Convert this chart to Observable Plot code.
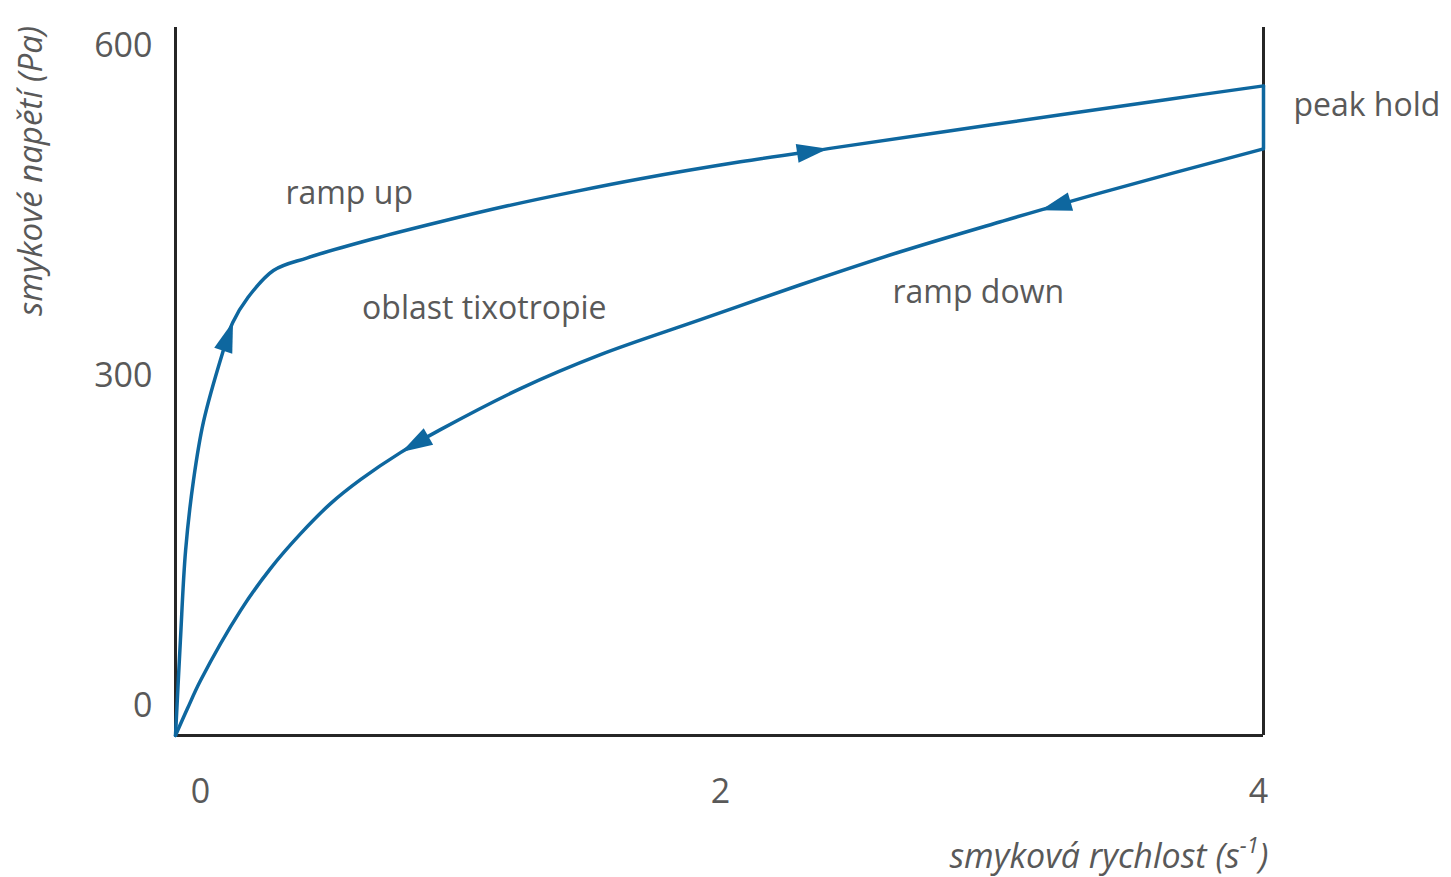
<!DOCTYPE html>
<html>
<head>
<meta charset="utf-8">
<script src="https://cdn.jsdelivr.net/npm/d3@7"></script>
<script src="https://cdn.jsdelivr.net/npm/@observablehq/plot@0.6"></script>
<style>
  html, body { margin: 0; padding: 0; background: #fff; }
</style>
</head>
<body>
<div id="chart"></div>
<script>
// Axis ticks
const xTicks = [0, 2, 4];
const yTicks = [0, 300, 600];

// Ramp up: shear rate (1/s) and shear stress (Pa), increasing rate
const rampUpRate   = [0, 0.018, 0.037, 0.066, 0.103, 0.173, 0.21, 0.265, 0.36, 0.485, 0.728, 0.974, 1.221, 1.463, 1.71, 2.077, 2.419, 3.0, 3.647, 4];
const rampUpStress = [0, 86.4, 168, 232, 285.5, 348, 375.5, 398, 423, 434.5, 451.8, 467.3, 481.8, 494.5, 506.4, 521.8, 534.5, 555.5, 578.6, 590.9];

// Ramp down: same quantities, listed in the order the rate decreases
const rampDownRate   = [4, 3.401, 3.033, 2.665, 2.298, 1.93, 1.5625, 1.268, 0.974, 0.827, 0.68, 0.57, 0.46, 0.349, 0.239, 0.092, 0.044, 0];
const rampDownStress = [533.6, 493.6, 467.3, 440, 410, 378.2, 346.4, 315.5, 278.2, 257.3, 232.7, 210.9, 183.6, 151.8, 113.6, 50, 24.5, 0];

// Shear rates at which direction arrows sit on each branch
const rampUpArrowRates = [0.1875, 2.323];
const rampDownArrowRates = [3.254, 0.897];

// Labels
const xTitle = "smyková rychlost (s-1)";
const yTitle = "smykové napětí (Pa)";
const labels = {up: "ramp up", down: "ramp down", area: "oblast tixotropie", hold: "peak hold"};

// Layout
const W = 1451, H = 877;
const ML = 175, MR = 188, MT = 27, MB = 142;
const xDomain = [0, 4];
const yDomain = [0, 644];
const blue = "#0e679f";
const ink = "#595959";
const axisInk = "#262626";
const font = "Open Sans";

const rampUp = rampUpRate.map((x, i) => ({x, y: rampUpStress[i]}));
const rampDown = rampDownRate.map((x, i) => ({x, y: rampDownStress[i]}));

// pixels per data unit, used to turn the local slope into a screen angle
const kx = (W - ML - MR) / (xDomain[1] - xDomain[0]);
const ky = (H - MT - MB) / (yDomain[1] - yDomain[0]);

// Place an arrow on a branch at a given rate, pointing along the travel direction
function arrowOn(branch, rate) {
  for (let i = 0; i < branch.length - 1; ++i) {
    const a = branch[i], b = branch[i + 1];
    if ((a.x - rate) * (b.x - rate) <= 0 && a.x !== b.x) {
      const t = (rate - a.x) / (b.x - a.x);
      const y = a.y + t * (b.y - a.y);
      const angle = Math.atan2((b.x - a.x) * kx, (b.y - a.y) * ky) * 180 / Math.PI;
      return {x: rate, y, angle};
    }
  }
}
const arrows = [
  ...rampUpArrowRates.map(r => arrowOn(rampUp, r)),
  ...rampDownArrowRates.map(r => arrowOn(rampDown, r))
];

// Slim filled arrowhead, pointing up before rotation
const arrowHead = {
  draw(context) {
    context.moveTo(0, -20.7);
    context.lineTo(9.5, 10.3);
    context.lineTo(-9.5, 10.3);
    context.closePath();
  }
};

const chart = Plot.plot({
  width: W,
  height: H,
  marginLeft: ML,
  marginRight: MR,
  marginTop: MT,
  marginBottom: MB,
  style: {fontFamily: font, background: "#fff", overflow: "visible"},
  x: {domain: xDomain, axis: null},
  y: {domain: yDomain, axis: null},
  marks: [
    // frame: left, right and bottom lines
    Plot.ruleX(xDomain, {stroke: axisInk, strokeWidth: 3}),
    Plot.ruleY([0], {stroke: axisInk, strokeWidth: 3}),

    // tick labels
    Plot.text(yTicks, {x: 0, y: d => d, text: d => String(d), textAnchor: "end", dx: -23, dy: -29.5, fontSize: 34, fill: ink}),
    Plot.text([xTicks[0]], {x: d => d, y: 0, text: d => String(d), dx: 25, dy: 57, fontSize: 34, fill: ink}),
    Plot.text([xTicks[1]], {x: d => d, y: 0, text: d => String(d), dx: 1, dy: 57, fontSize: 34, fill: ink}),
    Plot.text([xTicks[2]], {x: d => d, y: 0, text: d => String(d), dx: -5, dy: 57, fontSize: 34, fill: ink}),

    // flow curves
    Plot.line(rampUp, {x: "x", y: "y", curve: "catmull-rom", stroke: blue, strokeWidth: 3.5}),
    Plot.line(rampDown, {x: "x", y: "y", curve: "catmull-rom", stroke: blue, strokeWidth: 3.5}),
    // peak hold at the maximum rate
    Plot.ruleX([xDomain[1]], {y1: rampUpStress[rampUpStress.length - 1], y2: rampDownStress[0], stroke: blue, strokeWidth: 3.5}),

    // direction arrows
    Plot.dot(arrows, {x: "x", y: "y", rotate: "angle", symbol: arrowHead, fill: blue, stroke: "none"}),

    // annotations
    Plot.text([labels.up], {x: 0.404, y: 492.7, textAnchor: "start", fontSize: 32, fill: ink}),
    Plot.text([labels.area], {x: 0.686, y: 388.2, textAnchor: "start", fontSize: 32, fill: ink}),
    Plot.text([labels.down], {x: 2.636, y: 402.7, textAnchor: "start", fontSize: 32, fill: ink}),
    Plot.text([labels.hold], {x: 4.11, y: 572.7, textAnchor: "start", fontSize: 32, fill: ink}),

    // axis titles
    Plot.text([xTitle], {x: xDomain[1], y: 0, dx: 5, dy: 122, textAnchor: "end", fontSize: 34, fontStyle: "italic", fill: ink}),
    Plot.text([yTitle], {x: -0.529, y: 513.6, rotate: -90, fontSize: 33, fontStyle: "italic", fill: ink})
  ]
});

// superscript exponent in the rate unit
d3.select(chart).selectAll("text").filter(function () { return this.textContent === xTitle; })
  .each(function () {
    const t = d3.select(this);
    t.text(null);
    t.append("tspan").text("smyková rychlost (s");
    t.append("tspan").attr("baseline-shift", "super").attr("font-size", "0.65em").text("-1");
    t.append("tspan").text(")");
  });

document.getElementById("chart").appendChild(chart);
</script>
</body>
</html>
